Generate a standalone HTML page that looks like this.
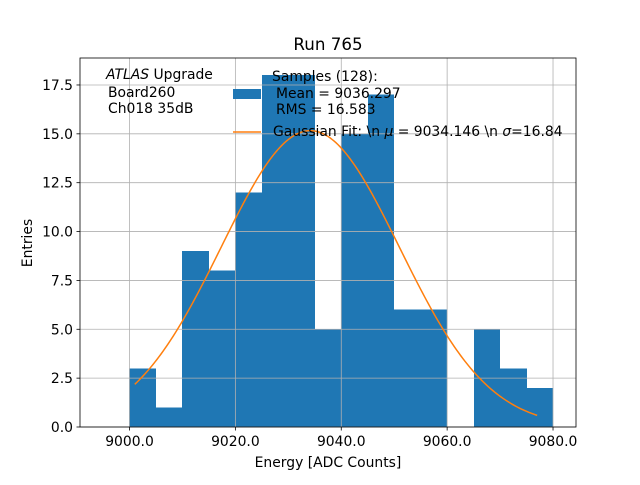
<!DOCTYPE html>
<html><head><meta charset="utf-8"><style>
html,body{margin:0;padding:0;background:#fff;}
svg text{font-family:"DejaVu Sans","Liberation Sans",sans-serif;fill:#000;}
</style></head><body>
<svg id="chart" width="640" height="480" viewBox="0 0 640 480" xmlns="http://www.w3.org/2000/svg">
<rect x="0" y="0" width="640" height="480" fill="#fff"/>
<g id="bars" shape-rendering="crispEdges"></g>
<g id="grid"></g>
<path id="fit" fill="none" stroke="#ff7f0e" stroke-width="1.5"/>
<rect x="80" y="58" width="496" height="369" fill="none" stroke="#000" stroke-width="0.8"/>
<g id="ticks"></g>
<text x="328" y="50" font-size="16.7" text-anchor="middle">Run 765</text>
<text x="328" y="467" font-size="13.9" text-anchor="middle">Energy [ADC Counts]</text>
<text transform="translate(32,243) rotate(-90)" font-size="13.9" text-anchor="middle">Entries</text>
<g font-size="13.9">
<text x="106" y="79"><tspan font-style="italic">ATLAS</tspan> Upgrade</text>
<text x="108" y="97">Board260</text>
<text x="108" y="113">Ch018 35dB</text>
</g>
<g font-size="13.9">
<rect x="233" y="89" width="28" height="10" fill="#1f77b4"/>
<text x="272" y="81">Samples (128):</text>
<text x="276" y="98">Mean = 9036.297</text>
<text x="276" y="114">RMS = 16.583</text>
<line x1="233" y1="132" x2="261" y2="132" stroke="#ff7f0e" stroke-width="1.5"/>
<text x="273" y="136">Gaussian Fit: \n <tspan font-style="italic">μ</tspan> = 9034.146 \n <tspan font-style="italic">σ</tspan>=16.84</text>
</g>
</svg>
<script>
const binStarts=[9000,9005,9010,9015,9020,9025,9030,9035,9040,9045,9050,9055,9060,9065,9070,9075];
const counts=[3,1,9,8,12,18,18,5,15,17,6,6,0,5,3,2];
const binWidth=5;
const xTicks=[9000,9020,9040,9060,9080];
const xTickLabels=["9000.0","9020.0","9040.0","9060.0","9080.0"];
const yTicks=[0,2.5,5,7.5,10,12.5,15,17.5];
const yTickLabels=["0.0","2.5","5.0","7.5","10.0","12.5","15.0","17.5"];
const fitMu=9034.146, fitSigma=16.84, fitN=128, fitRange=[9001,9077];
const NS="http://www.w3.org/2000/svg";
const X0=80,X1=576,Y0=427,Y1=58;
const xMin=8990.65,xMax=9084.34,yMin=0,yMax=18.88;
function sx(v){return X0+(v-xMin)/(xMax-xMin)*(X1-X0);}
function sy(v){return Y0-(v-yMin)/(yMax-yMin)*(Y0-Y1);}
function mk(t,a,p){const e=document.createElementNS(NS,t);for(const k in a)e.setAttribute(k,a[k]);p.appendChild(e);return e;}
const bars=document.getElementById('bars');
binStarts.forEach((b,i)=>{
  const x0=Math.round(sx(b)),x1=Math.round(sx(b+binWidth));
  const r=mk('rect',{x:x0,y:sy(counts[i]),width:x1-x0,height:sy(0)-sy(counts[i]),fill:'#1f77b4'},bars);
  
  
});
const grid=document.getElementById('grid'),ticks=document.getElementById('ticks');
xTicks.forEach((v,i)=>{
  const x=sx(v);
  mk('line',{x1:x,x2:x,y1:Y1,y2:Y0,stroke:'#b0b0b0','stroke-width':0.8},grid);
  mk('line',{x1:x,x2:x,y1:Y0,y2:Y0+3.5,stroke:'#000','stroke-width':0.8},ticks);
  const t=mk('text',{x:x,y:Y0+19,'font-size':13.9,'text-anchor':'middle'},ticks);
  t.textContent=xTickLabels[i];
  
  
});
yTicks.forEach((v,i)=>{
  const y=sy(v);
  mk('line',{x1:X0,x2:X1,y1:y,y2:y,stroke:'#b0b0b0','stroke-width':0.8},grid);
  mk('line',{x1:X0-3.5,x2:X0,y1:y,y2:y,stroke:'#000','stroke-width':0.8},ticks);
  const t=mk('text',{x:X0-7,y:y+5,'font-size':13.9,'text-anchor':'end'},ticks);
  t.textContent=yTickLabels[i];
  
  
});
const amp=fitN*binWidth/(Math.sqrt(2*Math.PI)*fitSigma);
let d='';
for(let k=0;k<=200;k++){
  const v=fitRange[0]+(fitRange[1]-fitRange[0])*k/200;
  const g=amp*Math.exp(-0.5*Math.pow((v-fitMu)/fitSigma,2));
  d+=(k?'L':'M')+sx(v).toFixed(2)+','+sy(g).toFixed(2);
}
document.getElementById('fit').setAttribute('d',d);
</script>
</body></html>
